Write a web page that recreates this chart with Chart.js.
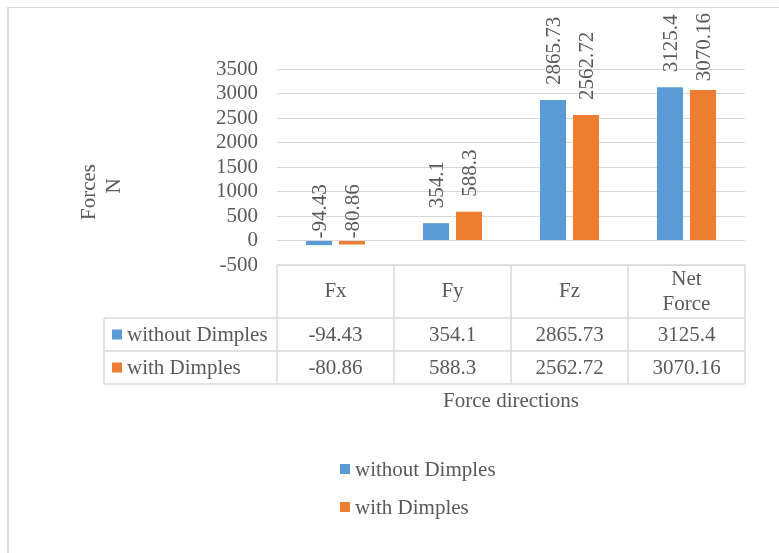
<!DOCTYPE html>
<html>
<head>
<meta charset="utf-8">
<script src="https://cdn.jsdelivr.net/npm/chart.js@4.4.1/dist/chart.umd.min.js"></script>
<style>
  html, body { margin: 0; padding: 0; background: #ffffff; }
  canvas { display: block; }
</style>
</head>
<body>
<canvas id="forces" width="779" height="553"></canvas>
<script>
// Force components, with and without dimples
const categories = ['Fx', 'Fy', 'Fz', ['Net', 'Force']];
const withoutDimples = [-94.43, 354.1, 2865.73, 3125.4];
const withDimples = [-80.86, 588.3, 2562.72, 3070.16];
const seriesNames = ['without Dimples', 'with Dimples'];
const yMin = -500, yMax = 3500, yStep = 500;

const BLUE = '#5B9BD5';
const ORANGE = '#ED7D31';
const TEXT = '#595959';
const LINE = '#d9d9d9';
const FONT = 'Liberation Serif, Times New Roman, serif';
const FS = 21;

// Draws the frame, value labels, data table, axis titles and legend
const decorations = {
  id: 'decorations',
  afterDraw(chart) {
    const ctx = chart.ctx;
    const area = chart.chartArea;
    const xs = chart.scales.x;
    const ys = chart.scales.y;
    const colors = chart.data.datasets.map(d => d.backgroundColor);
    const series = chart.data.datasets.map(d => d.data);
    const n = chart.data.labels.length;
    const colW = (area.right - area.left) / n;

    ctx.save();
    ctx.font = FS + 'px ' + FONT;
    ctx.fillStyle = TEXT;

    // outer frame (top and left edges)
    ctx.strokeStyle = LINE;
    ctx.lineWidth = 1;
    ctx.beginPath(); ctx.moveTo(7, 7.5); ctx.lineTo(779, 7.5); ctx.stroke();
    ctx.lineWidth = 2;
    ctx.beginPath(); ctx.moveTo(8, 7); ctx.lineTo(8, 553); ctx.stroke();

    // value labels, rotated; kept below the top edge of the frame
    const zeroY = ys.getPixelForValue(0);
    const topLimit = 13;
    chart.data.datasets.forEach((ds, i) => {
      chart.getDatasetMeta(i).data.forEach((bar, j) => {
        const v = ds.data[j];
        const txt = String(v);
        const w = ctx.measureText(txt).width;
        let y = v >= 0 ? bar.y - 15 : zeroY - 2;
        if (y - w < topLimit) y = topLimit + w;
        ctx.save();
        ctx.translate(bar.x, y);
        ctx.rotate(-Math.PI / 2);
        ctx.textAlign = 'left';
        ctx.textBaseline = 'middle';
        ctx.fillText(txt, 0, 1);
        ctx.restore();
      });
    });

    // data table under the plot
    const tTop = area.bottom;
    const hdrBot = tTop + 53;
    const rowH = 33;
    const tBot = hdrBot + rowH * 2;
    const tLeft = 104;
    ctx.strokeStyle = LINE;
    ctx.lineWidth = 1.5;
    ctx.beginPath();
    ctx.moveTo(area.left, tTop); ctx.lineTo(area.right, tTop);
    for (let r = 0; r <= 2; r++) {
      ctx.moveTo(tLeft, hdrBot + r * rowH); ctx.lineTo(area.right, hdrBot + r * rowH);
    }
    ctx.moveTo(tLeft, hdrBot); ctx.lineTo(tLeft, tBot);
    for (let c = 0; c <= n; c++) {
      const x = area.left + c * colW;
      ctx.moveTo(x, tTop); ctx.lineTo(x, tBot);
    }
    ctx.stroke();

    ctx.textAlign = 'center';
    ctx.textBaseline = 'middle';
    chart.data.labels.forEach((lab, j) => {
      const cx = xs.getPixelForValue(j);
      const lines = Array.isArray(lab) ? lab : [lab];
      const midY = (tTop + hdrBot) / 2;
      lines.forEach((t, k) => {
        ctx.fillText(t, cx, midY + (k - (lines.length - 1) / 2) * 25);
      });
      series.forEach((vals, i) => {
        ctx.fillText(String(vals[j]), cx, hdrBot + rowH * i + rowH / 2 + 1);
      });
    });
    ctx.textAlign = 'left';
    seriesNames.forEach((name, i) => {
      const cy = hdrBot + rowH * i + rowH / 2;
      ctx.fillStyle = colors[i];
      ctx.fillRect(112, cy - 5, 10, 10);
      ctx.fillStyle = TEXT;
      ctx.fillText(name, 127, cy + 1);
    });

    // x axis title
    ctx.textAlign = 'center';
    ctx.fillText('Force directions', (area.left + area.right) / 2, 401);

    // y axis title, two rotated lines
    ctx.save();
    ctx.translate(89, 192);
    ctx.rotate(-Math.PI / 2);
    ctx.fillText('Forces', 0, 0);
    ctx.restore();
    ctx.save();
    ctx.translate(114, 186);
    ctx.rotate(-Math.PI / 2);
    ctx.fillText('N', 0, 0);
    ctx.restore();

    // legend
    ctx.textAlign = 'left';
    seriesNames.forEach((name, i) => {
      const cy = 469 + i * 38;
      ctx.fillStyle = colors[i];
      ctx.fillRect(340, cy - 5, 10, 10);
      ctx.fillStyle = TEXT;
      ctx.fillText(name, 355, cy + 1);
    });

    ctx.restore();
  }
};

new Chart(document.getElementById('forces'), {
  type: 'bar',
  data: {
    labels: categories,
    datasets: [
      { label: seriesNames[0], data: withoutDimples, backgroundColor: BLUE },
      { label: seriesNames[1], data: withDimples, backgroundColor: ORANGE }
    ]
  },
  options: {
    responsive: false,
    animation: false,
    devicePixelRatio: 1,
    layout: { padding: { left: 0, right: 34, top: 69, bottom: 288 } },
    datasets: { bar: { categoryPercentage: 0.564, barPercentage: 0.79 } },
    plugins: { legend: { display: false }, tooltip: { enabled: false } },
    scales: {
      x: { display: false },
      y: {
        min: yMin, max: yMax,
        ticks: {
          stepSize: yStep, padding: 19, color: TEXT, autoSkip: false,
          font: { family: FONT, size: FS },
          callback: (v) => String(v)
        },
        grid: { color: LINE, lineWidth: 1, drawTicks: false },
        border: { display: false },
        afterFit(scale) { scale.width = 277; }
      }
    }
  },
  plugins: [decorations]
});
</script>
</body>
</html>
